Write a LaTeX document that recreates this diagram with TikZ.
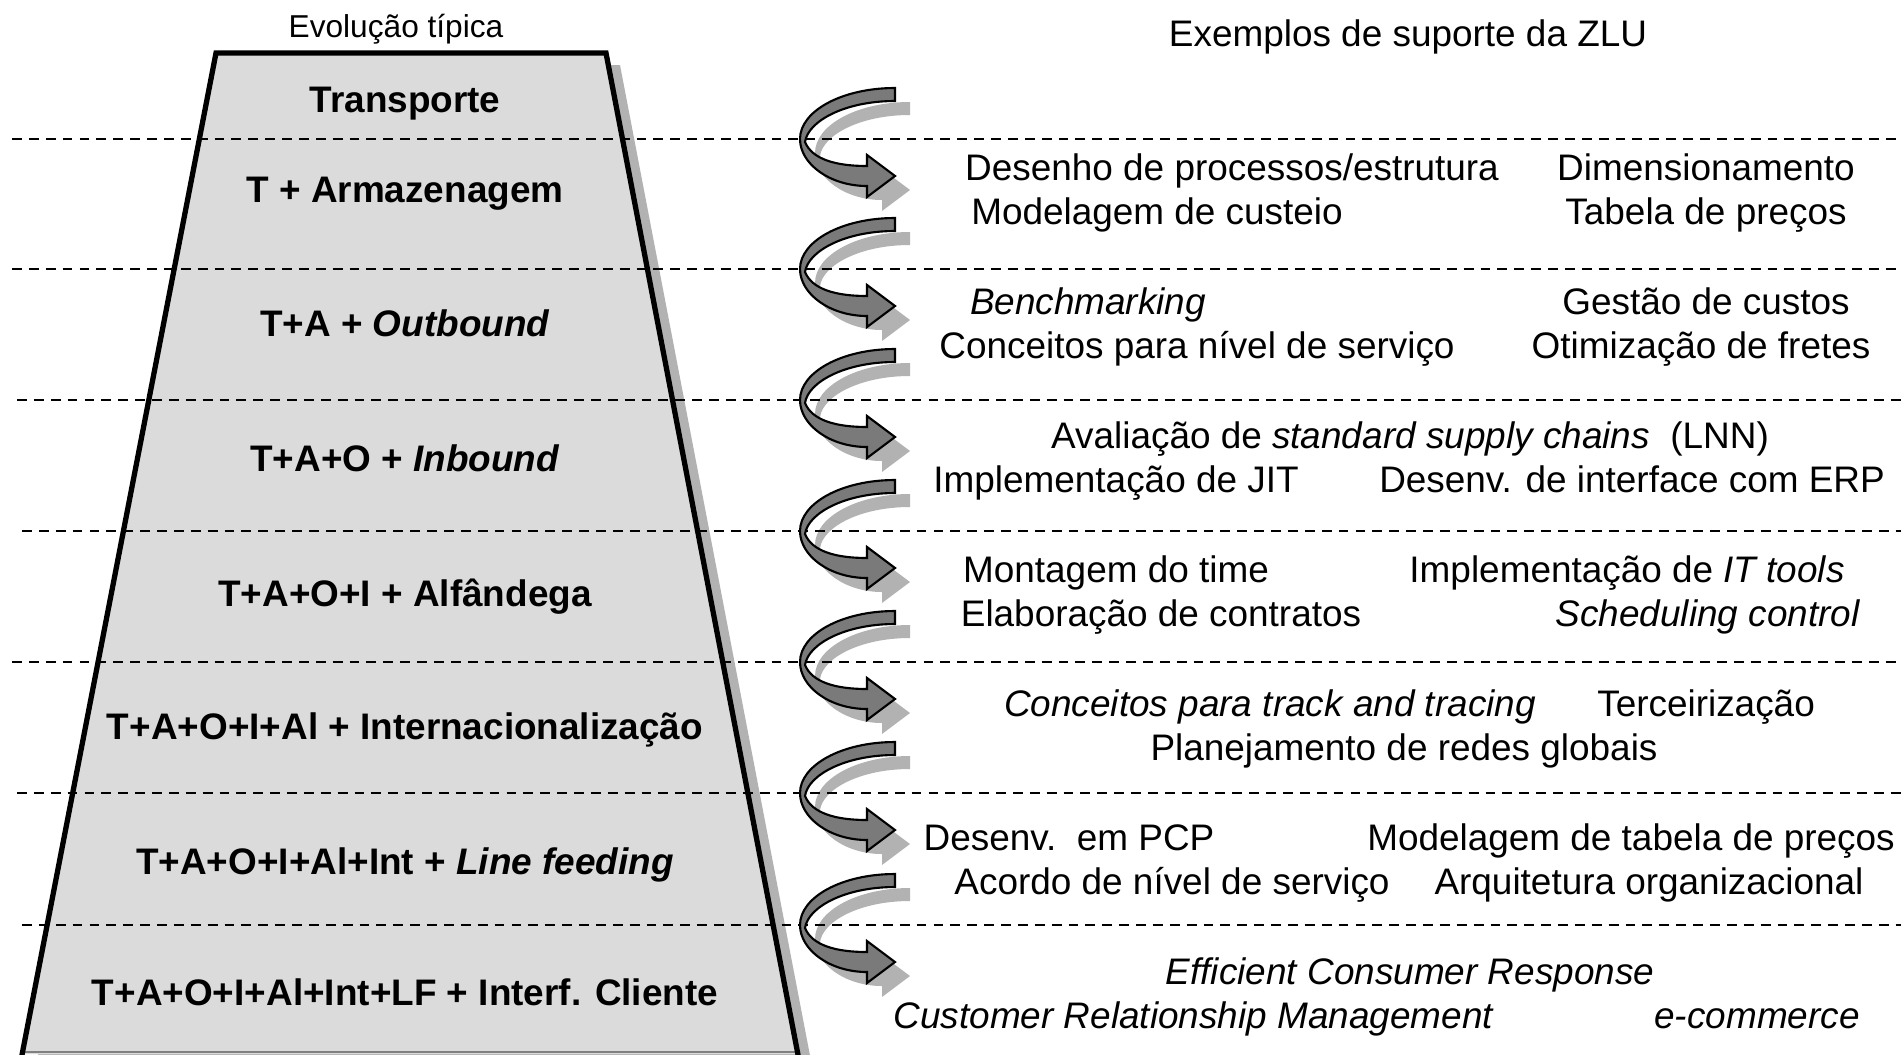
\documentclass[tikz,border=0pt]{standalone}
\usepackage{fontspec}
\setmainfont{Liberation Sans}
\usetikzlibrary{calc}
\definecolor{pyrfill}{gray}{0.86}
\definecolor{arrfill}{gray}{0.48}
\definecolor{shadefill}{gray}{0.70}
\tikzset{
  stage/.style={font=\fontsize{10.5}{12}\selectfont\bfseries, anchor=base, inner sep=0pt},
  support/.style={font=\fontsize{10.5}{12}\selectfont, anchor=base, inner sep=0pt},
  heading/.style={font=\fontsize{9}{11}\selectfont, anchor=base, inner sep=0pt},
  pics/uturn/.style={code={
    \path[#1] (95,-51) .. controls (42,-51) and (0,-28) .. (0,0)
      .. controls (0,25) and (30,47) .. (67,47) -- (67,58) -- (95,37)
      -- (67,16) -- (67,27) .. controls (35,27) and (12,20) .. (5,3)
      .. controls (8,-18) and (45,-38) .. (95,-38) -- cycle;
  }}
}

\begin{document}
\begin{tikzpicture}[x=0.01cm, y=-0.01cm]
  \useasboundingbox (0,0) rectangle (1901,1054);
  \coordinate (TopL) at (216,53);
  \coordinate (TopR) at (606,53);
  \coordinate (BotL) at (22,1054);
  \coordinate (BotR) at (798,1054);

  % pyramid with its shadow
  \fill[shadefill] ($(BotL)+(14,12)$) -- ($(TopL)+(14,12)$) -- ($(TopR)+(14,12)$) -- ($(BotR)+(14,12)$) -- cycle;
  \fill[pyrfill] (BotL) -- (TopL) -- (TopR) -- (BotR) -- cycle;
  \draw[gray, thin] (22,1052) -- (798,1052);
  \draw[line width=1.5pt, line join=miter] ($(BotL)+(-1,6)$) -- (TopL) -- (TopR) -- ($(BotR)+(1,6)$);

  % shadows of the arrows
  \foreach \yy in {139,269,400,531,662,793,925}
    \pic at (815,\yy+14) {uturn={fill=shadefill}};

  % separators
  \foreach \yy/\xx in {139/12,269/12,400/17,531/22,662/12,793/17,925/22}
    \draw[line width=0.7pt, dash pattern=on 2.8pt off 2pt] (\xx,\yy) -- (1901,\yy);

  % arrows
  \foreach \yy in {139,269,400,531,662,793,925}
    \pic at (800,\yy) {uturn={fill=arrfill, draw=black, line width=0.6pt}};

  % headings
  \node[heading] (evol) at (396,37) {Evolução típica};
  \node[support] (zlu) at (1408,46) {Exemplos de suporte da ZLU};

  % stages
  \node[stage] (s1) at (405,112) {Transporte};
  \node[stage] (s2) at (405,202) {T + Armazenagem};
  \node[stage] (s3) at (405,336) {T+A + \textit{Outbound}};
  \node[stage] (s4) at (405,471) {T+A+O + \textit{Inbound}};
  \node[stage] (s5) at (405,606) {T+A+O+I + Alfândega};
  \node[stage] (s6) at (405,739) {T+A+O+I+Al + Internacionalização};
  \node[stage] (s7) at (405,874) {T+A+O+I+Al+Int + \textit{Line feeding}};
  \node[stage] (s8) at (405,1005) {T+A+O+I+Al+Int+LF + Interf. Cliente};

  % supports
  \node[support] (e1a) at (1232,180) {Desenho de processos/estrutura};
  \node[support] (e1b) at (1706,180) {Dimensionamento};
  \node[support] (e1c) at (1157,224) {Modelagem de custeio};
  \node[support] (e1d) at (1706,224) {Tabela de preços};

  \node[support] (e2a) at (1088,314) {\textit{Benchmarking}};
  \node[support] (e2b) at (1706,314) {Gestão de custos};
  \node[support] (e2c) at (1197,358) {Conceitos para nível de serviço};
  \node[support] (e2d) at (1701,358) {Otimização de fretes};

  \node[support] (e3a) at (1410,448) {Avaliação de \textit{standard supply chains}\ \ (LNN)};
  \node[support] (e3b) at (1116,492) {Implementação de JIT};
  \node[support] (e3c) at (1632,492) {Desenv. de interface com ERP};

  \node[support] (e4a) at (1116,582) {Montagem do time};
  \node[support] (e4b) at (1627,582) {Implementação de \textit{IT tools}};
  \node[support] (e4c) at (1161,626) {Elaboração de contratos};
  \node[support] (e4d) at (1708,626) {\textit{Scheduling control}};

  \node[support] (e5a) at (1270,716) {\textit{Conceitos para track and tracing}};
  \node[support] (e5b) at (1706,716) {Terceirização};
  \node[support] (e5c) at (1404,760) {Planejamento de redes globais};

  \node[support] (e6a) at (1069,850) {Desenv.\ \ em PCP};
  \node[support] (e6b) at (1631,850) {Modelagem de tabela de preços};
  \node[support] (e6c) at (1172,894) {Acordo de nível de serviço};
  \node[support] (e6d) at (1649,894) {Arquitetura organizacional};

  \node[support] (e7a) at (1410,984) {\textit{Efficient Consumer Response}};
  \node[support] (e7b) at (1194,1028) {\textit{Customer Relationship Management}};
  \node[support] (e7c) at (1757,1028) {\textit{e-commerce}};
\end{tikzpicture}
\end{document}
